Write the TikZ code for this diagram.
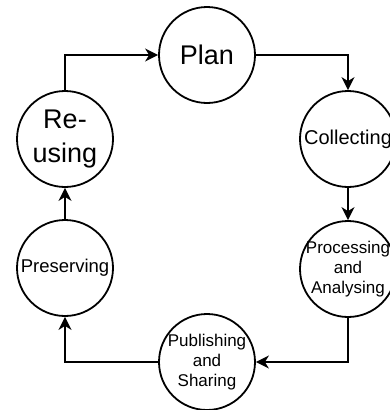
\documentclass[tikz,border=0pt]{standalone}
\usepackage{fontspec}
\setmainfont{Liberation Sans}
\usetikzlibrary{arrows.meta,positioning}
\tikzset{
 stage/.style={draw,circle,line width=1.8pt,minimum size=96pt,inner sep=-8pt,
               align=center,font=\fontsize{17}{20}\selectfont},
 bigstage/.style={stage,font=\fontsize{27}{34}\selectfont},
 arrow/.style={-{Stealth[length=13pt,width=13pt,inset=4pt]},line width=1.8pt},
}
\begin{document}
\begin{tikzpicture}[x=1pt,y=-1pt]
\useasboundingbox (0,0) rectangle (390,410);
\node[bigstage] (plan) at (207,55) {Plan};
\node[stage,font=\fontsize{20}{24}\selectfont] (coll) at (348,139) {Collecting};
\node[stage] (proc) at (348,269) {Processing\\and\\Analysing};
\node[stage] (pub) at (207,362) {Publishing\\and\\Sharing};
\node[stage,font=\fontsize{18.5}{22}\selectfont] (pres) at (65,268) {Preserving};
\node[bigstage] (reuse) at (65,139) {Re-\\using};
\draw[arrow] (reuse.north) |- (plan.west);
\draw[arrow] (plan.east) -| (coll.north);
\draw[arrow] (coll) -- (proc);
\draw[arrow] (proc.south) |- (pub.east);
\draw[arrow] (pub.west) -| (pres.south);
\draw[arrow] (pres) -- (reuse);
\end{tikzpicture}
\end{document}
